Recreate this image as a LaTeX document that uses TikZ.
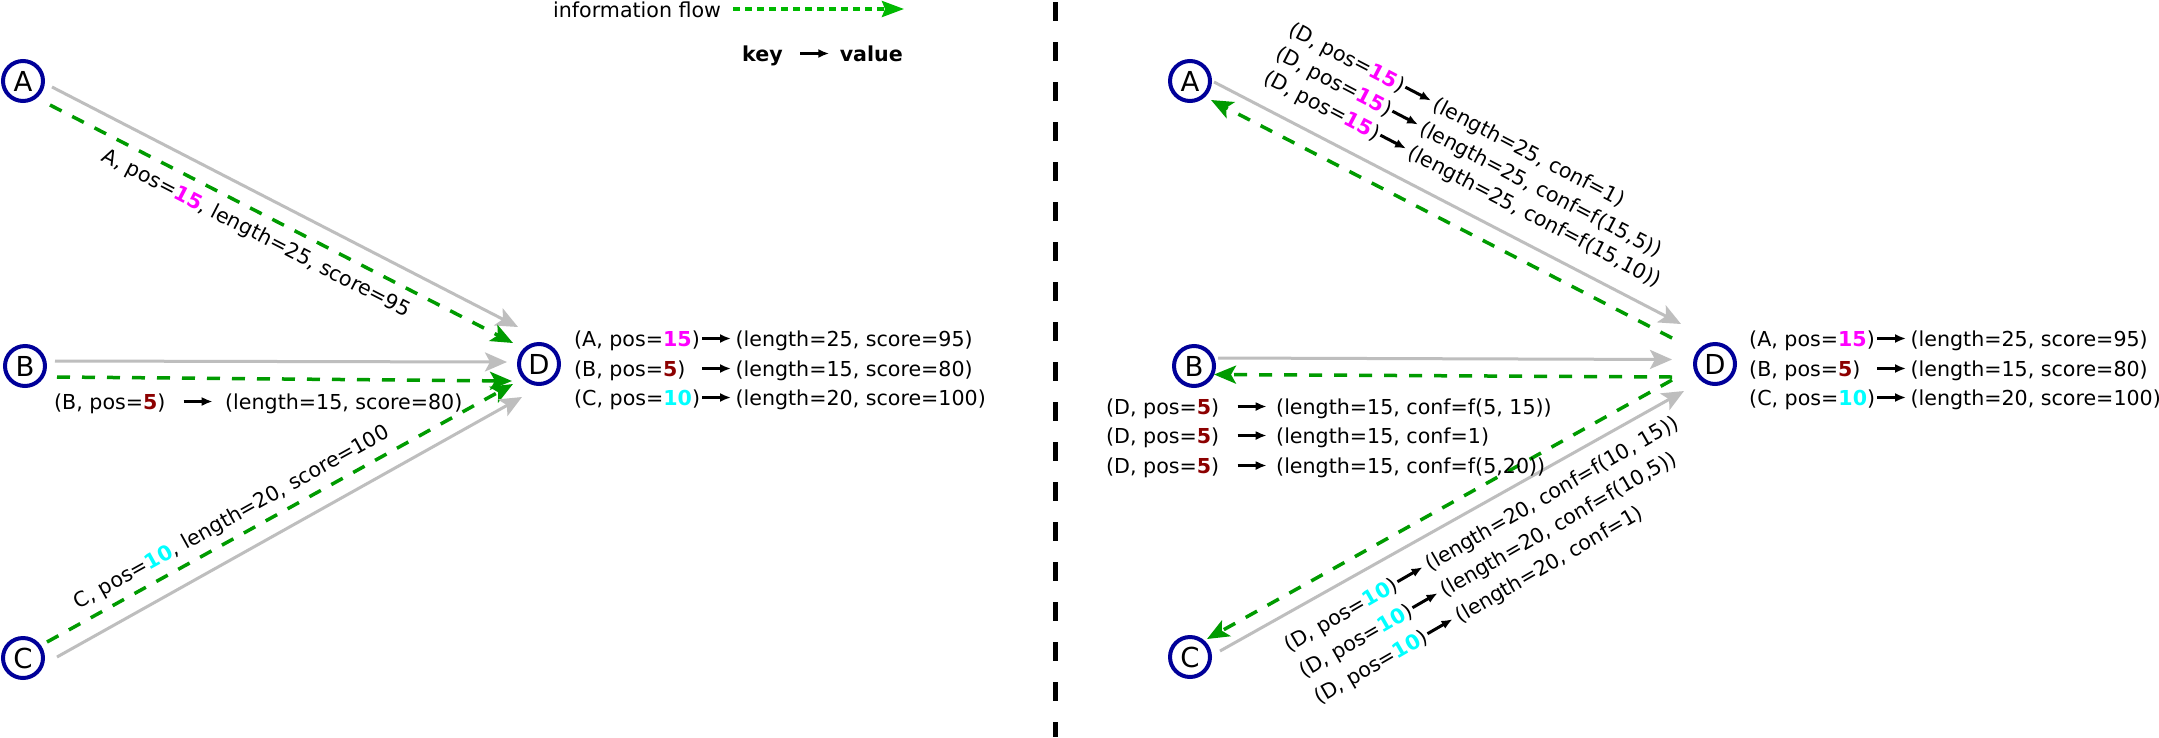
\documentclass[tikz,border=0pt]{standalone}
\usepackage{fontspec}
\setmainfont{DejaVu Sans}
\usetikzlibrary{arrows.meta,calc}
\definecolor{nodeblue}{RGB}{0,0,153}
\definecolor{edgegray}{RGB}{190,190,190}
\definecolor{flowgreen}{RGB}{0,155,0}
\definecolor{legendgreen}{RGB}{0,185,0}
\definecolor{pinkhl}{RGB}{255,0,255}
\definecolor{redhl}{RGB}{140,0,0}
\definecolor{cyanhl}{RGB}{0,255,255}
\newcommand\pA{\textbf{\textcolor{pinkhl}{15}}}
\newcommand\pB{\textbf{\textcolor{redhl}{5}}}
\newcommand\pC{\textbf{\textcolor{cyanhl}{10}}}
\newcommand\karrow{\tikz[x=1pt,y=1pt,baseline=-7.5pt]\draw[line width=3pt,-{Latex[length=11pt,width=9pt]}] (0,0)--(29,0);}
\newcommand\rowarrow{\hspace{0.5pt}\karrow\hspace{3pt}}
\tikzset{
  vertex/.style={circle, draw=nodeblue, line width=4pt, minimum size=40pt, inner sep=0pt, fill=white, font=\fontsize{27.5}{30}\selectfont},
  graylink/.style={draw=edgegray, line width=3pt, -{Stealth[length=22pt,width=19pt,inset=5pt]}},
  flowlink/.style={draw=flowgreen, line width=3.5pt, dash pattern=on 13pt off 12pt, -{Stealth[length=22pt,width=18pt,inset=5pt]}},
  legendflow/.style={draw=legendgreen, line width=3.5pt, dash pattern=on 7pt off 5pt, -{Stealth[length=22pt,width=16pt,inset=3pt]}},
  separator/.style={draw=black, line width=5pt, dash pattern=on 19pt off 21pt},
  rowlbl/.style={anchor=base west, inner sep=0pt},
}
\begin{document}
\newlength\keyw
\settowidth\keyw{\fontsize{20.6}{24}\selectfont (C, pos=\pC)}
\begin{tikzpicture}[x=1pt,y=-1pt,font=\fontsize{20.6}{24}\selectfont]
\fill[white] (0,0) rectangle (2159,737);
\useasboundingbox (0,0) rectangle (2159,737);

% separator
\coordinate (sepT) at (1055,2);
\coordinate (sepB) at (1055,737);
\draw[separator] (sepT) -- (sepB);

% legend
\node[rowlbl] (legtxt) at (553,17) {information flow};
\coordinate (legS) at (733,9);
\coordinate (legE) at (904,9);
\draw[legendflow] (legS) -- (legE);
\node[rowlbl] (legkv) at (742,61) {\textbf{key}\hspace{16pt}\karrow\hspace{9pt}\textbf{value}};

% ---------------- left half ----------------
\node[vertex] (A) at (23,81) {A};
\node[vertex] (B) at (25,366) {B};
\node[vertex] (C) at (23,658) {C};
\node[vertex] (D) at (539,364) {D};

\draw[graylink] ($(A)+(29,6)$) -- ($(D)+(-21,-37)$);
\draw[flowlink] ($(A)+(27,24)$) -- ($(D)+(-26,-21)$);
\draw[graylink] ($(B)+(30,-5)$) -- ($(D)+(-32,-2)$);
\draw[flowlink] ($(B)+(32,11)$) -- ($(D)+(-27,17)$);
\draw[flowlink] ($(C)+(24,-16)$) -- ($(D)+(-26,20)$);
\draw[graylink] ($(C)+(34,-1)$) -- ($(D)+(-17,33)$);

\node[inner sep=0pt, rotate=-27.2] (la) at ($(A)+(233,153)$) {A, pos=\pA, length=25, score=95};
\node[rowlbl] (lb) at ($(B)+(29,43)$) {\makebox[128pt][l]{(B, pos=\pB)}\karrow\hspace{11pt}(length=15, score=80)};
\node[inner sep=0pt, rotate=29] (lc) at ($(C)+(209,-140)$) {C, pos=\pC, length=20, score=100};

\node[rowlbl] (ld1) at ($(D)+(35,-18)$) {\makebox[\keyw][l]{(A, pos=\pA)}\rowarrow(length=25, score=95)};
\node[rowlbl] (ld2) at ($(D)+(35,12)$) {\makebox[\keyw][l]{(B, pos=\pB)}\rowarrow(length=15, score=80)};
\node[rowlbl] (ld3) at ($(D)+(35,41)$) {\makebox[\keyw][l]{(C, pos=\pC)}\rowarrow(length=20, score=100)};

% ---------------- right half ----------------
\node[vertex] (A2) at (1190,81) {A};
\node[vertex] (B2) at (1194,366) {B};
\node[vertex] (C2) at (1190,657) {C};
\node[vertex] (D2) at (1715,364) {D};

\draw[graylink] ($(A2)+(24,1)$) -- ($(D2)+(-34,-40)$);
\draw[flowlink] ($(D2)+(-43,-26)$) -- ($(A2)+(21,19)$);
\draw[graylink] ($(B2)+(24,-8)$) -- ($(D2)+(-43,-4.5)$);
\draw[flowlink] ($(D2)+(-43,13)$) -- ($(B2)+(20,8.5)$);
\draw[flowlink] ($(D2)+(-43,16)$) -- ($(C2)+(17,-18)$);
\draw[graylink] ($(C2)+(30,-6)$) -- ($(D2)+(-31,27)$);

\node[rowlbl, rotate=-27.5] (ra1) at ($(A2)+(97,-47)$) {(D, pos=\pA)\rowarrow(length=25, conf=1)};
\node[rowlbl, rotate=-27.5] (ra2) at ($(A2)+(84,-23)$) {(D, pos=\pA)\rowarrow(length=25, conf=f(15,5))};
\node[rowlbl, rotate=-27.5] (ra3) at ($(A2)+(72,1)$) {(D, pos=\pA)\rowarrow(length=25, conf=f(15,10))};

\node[rowlbl] (rb1) at ($(B2)+(-88,48)$) {\makebox[130pt][l]{(D, pos=\pB)}\karrow\hspace{8pt}(length=15, conf=f(5, 15))};
\node[rowlbl] (rb2) at ($(B2)+(-88,77)$) {\makebox[130pt][l]{(D, pos=\pB)}\karrow\hspace{8pt}(length=15, conf=1)};
\node[rowlbl] (rb3) at ($(B2)+(-88,107)$) {\makebox[130pt][l]{(D, pos=\pB)}\karrow\hspace{8pt}(length=15, conf=f(5,20))};

\node[rowlbl, rotate=30] (rc1) at ($(C2)+(99,-4)$) {(D, pos=\pC)\rowarrow(length=20, conf=f(10, 15))};
\node[rowlbl, rotate=30] (rc2) at ($(C2)+(114,22)$) {(D, pos=\pC)\rowarrow(length=20, conf=f(10,5))};
\node[rowlbl, rotate=30] (rc3) at ($(C2)+(129,48)$) {(D, pos=\pC)\rowarrow(length=20, conf=1)};

\node[rowlbl] (rd1) at ($(D2)+(34,-18)$) {\makebox[\keyw][l]{(A, pos=\pA)}\rowarrow(length=25, score=95)};
\node[rowlbl] (rd2) at ($(D2)+(34,12)$) {\makebox[\keyw][l]{(B, pos=\pB)}\rowarrow(length=15, score=80)};
\node[rowlbl] (rd3) at ($(D2)+(34,41)$) {\makebox[\keyw][l]{(C, pos=\pC)}\rowarrow(length=20, score=100)};
\end{tikzpicture}
\end{document}
